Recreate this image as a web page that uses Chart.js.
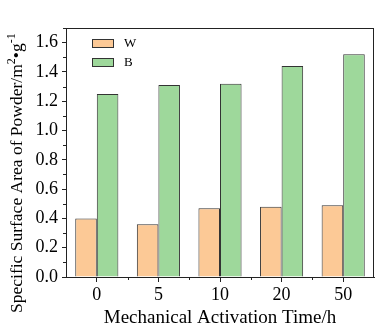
<!DOCTYPE html>
<html>
<head>
<meta charset="utf-8">
<script src="https://cdn.jsdelivr.net/npm/chart.js@4"></script>
<style>
  html,body{margin:0;padding:0;background:#fff;}
  #wrap{width:376px;height:329px;position:relative;}
</style>
</head>
<body>
<div id="wrap"><canvas id="c" width="376" height="329"></canvas></div>
<script>
const times=['0','5','10','20','50'];
const wVals=[0.40,0.36,0.47,0.48,0.49];
const bVals=[1.25,1.31,1.32,1.44,1.52];
const yMax=1.7;
const serif='"Liberation Serif","Times New Roman",serif';

// frame, minor ticks, legend and the rotated y title with superscripts
const extras={
  id:'extras',
  afterDraw(chart){
    const {ctx,chartArea:a,scales:{x,y}}=chart;
    ctx.save();
    ctx.strokeStyle='#222';ctx.lineWidth=1;
    ctx.strokeRect(a.left+0.5,a.top+0.5,a.right-a.left-1,a.bottom-a.top);
    // minor ticks
    ctx.beginPath();
    for(let v=0.1;v<yMax;v+=0.2){
      const py=Math.round(y.getPixelForValue(v))+0.5;
      ctx.moveTo(a.left,py);ctx.lineTo(a.left-3,py);
    }
    for(let i=0;i<times.length-1;i++){
      const px=Math.round((x.getPixelForValue(i)+x.getPixelForValue(i+1))/2)+0.5;
      ctx.moveTo(px,a.bottom);ctx.lineTo(px,a.bottom+3);
    }
    ctx.stroke();
    // legend
    chart.data.datasets.forEach((ds,i)=>{
      const ly=39+i*19;
      ctx.fillStyle=ds.backgroundColor;
      ctx.fillRect(92,ly,22,9);
      ctx.strokeStyle='#333';
      ctx.strokeRect(92.5,ly+0.5,21,8);
      ctx.fillStyle='#000';
      ctx.font='13px '+serif;
      ctx.textBaseline='middle';ctx.textAlign='left';
      ctx.fillText(ds.label,124,ly+5);
    });
    // y title
    ctx.translate(22,313);
    ctx.rotate(-Math.PI/2);
    ctx.textBaseline='alphabetic';ctx.textAlign='left';
    const parts=[['Specific Surface Area of Powder/m',0],['2',1],['•g',0],['-1',1]];
    let tx=0;
    parts.forEach(([t,sup])=>{
      ctx.font=(sup?'12px ':'17.5px ')+serif;
      ctx.fillText(t,tx,sup?-7:0);
      tx+=ctx.measureText(t).width;
    });
    ctx.restore();
  }
};

new Chart(document.getElementById('c'),{
  type:'bar',
  data:{
    labels:times,
    datasets:[
      {label:'W',data:wVals,backgroundColor:'#fcc996',borderColor:'#333',borderWidth:1},
      {label:'B',data:bVals,backgroundColor:'#9ed89b',borderColor:'#333',borderWidth:1}
    ]
  },
  options:{
    responsive:false,animation:false,
    layout:{padding:{top:28,right:2,left:0,bottom:0}},
    categoryPercentage:0.7,barPercentage:1,
    plugins:{legend:{display:false},tooltip:{enabled:false}},
    scales:{
      x:{
        grid:{drawOnChartArea:false,drawTicks:true,tickLength:5,tickColor:'#222',offset:false},
        border:{color:'#222',width:1},
        ticks:{color:'#000',font:{family:serif,size:18},padding:2},
        title:{display:true,text:'Mechanical Activation Time/h',color:'#000',font:{family:serif,size:19},padding:{top:0,bottom:0}},
        afterFit(s){s.height=52;}
      },
      y:{
        min:0,max:yMax,
        grid:{drawOnChartArea:false,drawTicks:true,tickLength:4,tickColor:'#222'},
        border:{color:'#222',width:1},
        ticks:{stepSize:0.2,includeBounds:false,color:'#000',font:{family:serif,size:18},padding:4,callback:v=>v.toFixed(1)},
        afterFit(s){s.width=66;}
      }
    }
  },
  plugins:[extras]
});
</script>
</body>
</html>
